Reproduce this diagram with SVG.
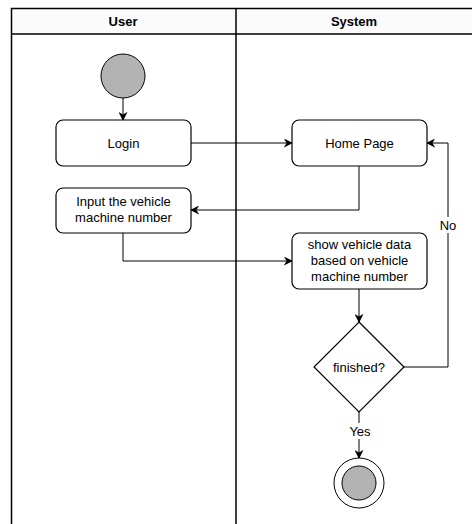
<svg xmlns="http://www.w3.org/2000/svg" width="472" height="524" viewBox="0 0 472 524">
<defs>
<marker id="arr" viewBox="0 0 10 10" refX="9" refY="5" markerWidth="9" markerHeight="9" markerUnits="userSpaceOnUse" orient="auto"><path d="M0,0 L10,5 L0,10 L3,5 Z" fill="#000"/></marker>
<style>
.lane{fill:none;stroke:#000;stroke-width:1.5}
.box{fill:#fff;stroke:#000;stroke-width:1.2}
.t{font-family:"Liberation Sans",Arial,sans-serif;font-size:13px;fill:#000;text-anchor:middle}
.h{font-family:"Liberation Sans",Arial,sans-serif;font-size:13px;font-weight:bold;fill:#000;text-anchor:middle}
.c{fill:none;stroke:#000;stroke-width:1;marker-end:url(#arr)}
.lbl{fill:#fff}
</style>
</defs>
<rect x="0" y="0" width="472" height="524" fill="#fff"/>
<g id="lanes">
<rect x="11.5" y="8.5" width="470" height="26" fill="#fbfbfb" stroke="none"/>
<path class="lane" d="M11.5,524 V8.5 H472 M11.5,34 H472 M236,8.5 V524"/>
<text class="h" x="123" y="26">User</text>
<text class="h" x="354" y="26">System</text>
</g>
<g id="connectors">
<path class="c" d="M123,98 V120"/>
<path class="c" d="M191,143 H292"/>
<path class="c" d="M359,166 V210 H191"/>
<path class="c" d="M123,233 V261 H292"/>
<path class="c" d="M359,289 V322"/>
<path class="c" d="M404,367 H448 V143 H427"/>
<path class="c" d="M359,412 V458"/>
<rect class="lbl" x="439" y="217" width="18" height="16"/>
<text class="t" x="448" y="230">No</text>
<rect class="lbl" x="348" y="423" width="23" height="16"/>
<text class="t" x="360" y="436">Yes</text>
</g>
<g id="start"><circle cx="123" cy="76" r="22" fill="#b3b3b3" stroke="#000" stroke-width="1"/></g>
<g id="login"><rect class="box" x="56" y="120" width="135" height="46" rx="7"/><text class="t" x="123.5" y="147.5">Login</text></g>
<g id="home"><rect class="box" x="292" y="120" width="135" height="46" rx="7"/><text class="t" x="359.5" y="147.5">Home Page</text></g>
<g id="input"><rect class="box" x="56" y="188" width="135" height="45" rx="7"/><text class="t" x="123.5" y="206">Input the vehicle</text><text class="t" x="123.5" y="222">machine number</text></g>
<g id="show"><rect class="box" x="292" y="233" width="135" height="56" rx="7"/><text class="t" x="359.5" y="249">show vehicle data</text><text class="t" x="359.5" y="265">based on vehicle</text><text class="t" x="359.5" y="281">machine number</text></g>
<g id="decision"><path class="box" d="M359,322 L404,367 L359,412 L314,367 Z"/><text class="t" x="359" y="371.5">finished?</text></g>
<g id="end"><circle cx="359" cy="483" r="25" fill="#fff" stroke="#000" stroke-width="1"/><circle cx="359" cy="483" r="17" fill="#b3b3b3" stroke="#000" stroke-width="1"/></g>
</svg>
